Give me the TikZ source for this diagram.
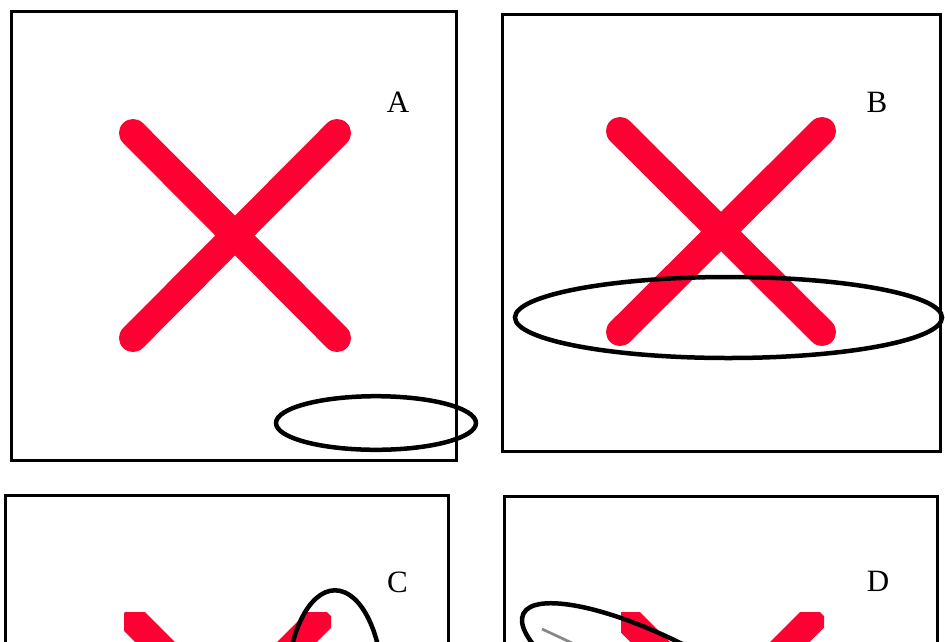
\documentclass[tikz,border=0pt]{standalone}
\usepackage{fontspec}
\setmainfont{Liberation Serif}
\definecolor{xred}{HTML}{FF0033}
\definecolor{axisgray}{HTML}{888888}
\tikzset{
  panelbox/.style={draw=black, line width=3pt},
  cross/.style={draw=xred, line width=28pt, line cap=round},
  crossflat/.style={draw=xred, line width=28pt, line cap=butt},
  ring/.style={draw=black, line width=4.5pt},
  panellabel/.style={inner sep=0pt, font=\fontsize{31}{31}\selectfont},
  axisline/.style={draw=axisgray, line width=2.7pt}
}
\begin{document}
\begin{tikzpicture}[x=1pt, y=-1pt]
\useasboundingbox (0,0) rectangle (945,641);
\clip (0,0) rectangle (945,641);
% Panel A
\draw[panelbox] (11.5,11.5) rectangle (456.5,460);
\draw[cross] (133,133) -- (337,338);
\draw[cross] (337,133) -- (133,338);
\draw[ring] (376,423) ellipse [x radius=100pt, y radius=26.8pt];
\node[panellabel] (la) at (398,102) {A};
% Panel B
\draw[panelbox] (502,14) rectangle (940,451.5);
\draw[cross] (620,131) -- (822,332);
\draw[cross] (822,131) -- (620,332);
\draw[ring] (728.5,317.5) ellipse [x radius=213.5pt, y radius=40.5pt];
\node[panellabel] (lb) at (877,102) {B};
% Panel C
\draw[panelbox] (5.3,495.7) rectangle (448,700);
\begin{scope}
  \clip (124,612) rectangle (331,820);
  \draw[crossflat] (125,612) -- (327,814);
  \draw[crossflat] (327,612) -- (125,814);
\end{scope}
\draw[ring] (335,690.3) ellipse [x radius=48pt, y radius=100pt];
\node[panellabel] (lc) at (397.5,582) {C};
% Panel D
\draw[panelbox] (504,496) rectangle (937.5,700);
\begin{scope}
  \clip (621,612) rectangle (824,820);
  \draw[crossflat] (620.2,612) -- (819.8,812);
  \draw[crossflat] (819.8,612) -- (620.2,812);
\end{scope}
\coordinate (axstart) at (542,629);
\coordinate (axend) at (600,656);
\draw[axisline] (axstart) -- (axend);
\draw[ring, rotate around={-27:(666,686.2)}] (666,686.2) ellipse [x radius=160pt, y radius=45pt];
\node[panellabel] (ld) at (878,581.5) {D};
\end{tikzpicture}
\end{document}
